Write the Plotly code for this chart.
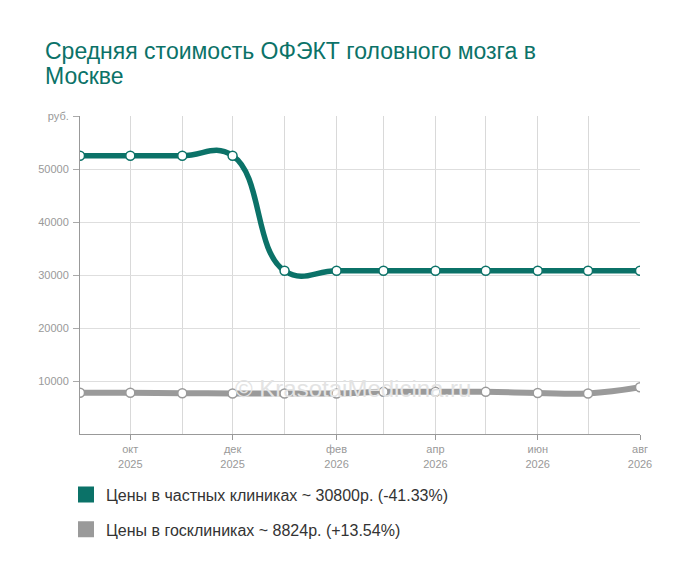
import plotly.graph_objects as go

# months Sep 2025 .. Aug 2026
months = ["2025-09-01", "2025-10-01", "2025-11-01", "2025-12-01", "2026-01-01", "2026-02-01",
          "2026-03-01", "2026-04-01", "2026-05-01", "2026-06-01", "2026-07-01", "2026-08-01"]
private_prices = [52500, 52500, 52500, 52500, 30800, 30800, 30800, 30800, 30800, 30800, 30800, 30800]
public_prices = [7772, 7772, 7700, 7650, 7650, 7650, 7950, 7950, 7950, 7750, 7650, 8824]

tick_months = ["2025-10-01", "2025-12-01", "2026-02-01", "2026-04-01", "2026-06-01", "2026-08-01"]
tick_labels = ["окт<br>2025", "дек<br>2025", "фев<br>2026", "апр<br>2026", "июн<br>2026", "авг<br>2026"]
y_ticks = [10000, 20000, 30000, 40000, 50000, 60000]
y_labels = ["10000", "20000", "30000", "40000", "50000", "руб."]

title_lines = ["Средняя стоимость ОФЭКТ головного мозга в", "Москве"]
legend_private = "Цены в частных клиниках ~ 30800р. (-41.33%)"
legend_public = "Цены в госклиниках ~ 8824р. (+13.54%)"

teal = "#0b7268"
grey = "#9a9a9a"
font = "Liberation Sans, Arial"

fig = go.Figure()
fig.add_trace(go.Scatter(x=months, y=public_prices, mode="lines+markers", line_shape="spline",
                         line=dict(color=grey, width=6, smoothing=1.3),
                         marker=dict(size=9, color="white", line=dict(color=grey, width=1.5)),
                         showlegend=False, hoverinfo="skip"))
fig.add_trace(go.Scatter(x=months, y=private_prices, mode="lines+markers", line_shape="spline",
                         line=dict(color=teal, width=5.5, smoothing=1.3),
                         marker=dict(size=9, color="white", line=dict(color=teal, width=1.5)),
                         showlegend=False, hoverinfo="skip"))

# legend entries with square swatches
fig.add_trace(go.Scatter(x=[None], y=[None], mode="markers", name=legend_private, legendgroup="a",
                         marker=dict(symbol="square", size=16, color=teal)))
fig.add_trace(go.Scatter(x=[None], y=[None], mode="markers", name=legend_public, legendgroup="b",
                         marker=dict(symbol="square", size=16, color=grey)))

# title as two tight lines
fig.add_annotation(text=title_lines[0], xref="paper", yref="paper", x=-0.066, y=1.204,
                   xanchor="left", yanchor="middle", showarrow=False,
                   font=dict(family=font, size=23, color=teal))
fig.add_annotation(text=title_lines[1], xref="paper", yref="paper", x=-0.066, y=1.126,
                   xanchor="left", yanchor="middle", showarrow=False,
                   font=dict(family=font, size=23, color=teal))

fig.add_annotation(text="© KrasotaiMedicina.ru", xref="paper", yref="paper", x=0.4875, y=0.094,
                   showarrow=False, font=dict(family=font, size=24, color="#e3e3e3"))

fig.update_layout(
    width=700, height=578,
    paper_bgcolor="white", plot_bgcolor="white",
    font=dict(family=font, color="#999"),
    margin=dict(l=72, r=68, t=108, b=152),
    xaxis=dict(range=["2025-09-01", "2026-08-01"], tickvals=tick_months, ticktext=tick_labels,
               showgrid=True, gridcolor="#d9d9d9", ticks="outside", ticklen=5, tickcolor="#999",
               showline=True, linecolor="#999", linewidth=1, tickfont=dict(size=11, color="#999"),
               minor=dict(dtick="M1", showgrid=True, gridcolor="#d9d9d9"), zeroline=False),
    yaxis=dict(range=[0, 60000], tickvals=y_ticks, ticktext=y_labels, showgrid=True,
               gridcolor="#dedede", showline=True, linecolor="#999", linewidth=1,
               ticks="outside", ticklen=6, tickcolor="#aaa", ticklabelstandoff=2,
               tickfont=dict(size=11, color="#999"), zeroline=False),
    legend=dict(orientation="v", x=-0.025, xanchor="left", y=-0.137, yanchor="top",
                font=dict(size=16, color="#333"), traceorder="grouped", tracegroupgap=11),
)

fig.write_html("out.html")
